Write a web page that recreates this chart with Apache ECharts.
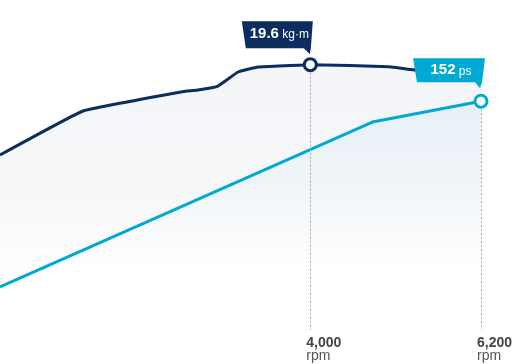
<!DOCTYPE html>
<html>
<head>
<meta charset="utf-8">
<script src="https://cdn.jsdelivr.net/npm/echarts@6/dist/echarts.min.js"></script>
<style>
html,body{margin:0;padding:0;background:#fff;}
#chart{width:514px;height:364px;}
</style>
</head>
<body>
<div id="chart"></div>
<script>
// Torque curve (kg·m) vs rpm
const torqueRpm = [0, 1070, 2410, 2552, 2810, 3068, 3326, 4000, 5014, 5349, 6200];
const torqueValues = [12.93, 16.18, 17.66, 17.73, 18.02, 19.06, 19.43, 19.6, 19.45, 19.2, 18.54];
// Power curve (ps) vs rpm
const powerRpm = [0, 4800, 6200];
const powerValues = [28.6, 138.2, 152];
// Peak annotations
const torquePeak = [4000, 19.6];
const powerPeak = [6200, 152];
const tickValues = [4000, 6200];
const tickLabels = ['4,000', '6,200'];
const unitLabel = 'rpm';

const navy = '#0c2d5e';
const cyan = '#00a9d4';

const torqueData = torqueRpm.map((r, i) => [r, torqueValues[i]]);
const powerData = powerRpm.map((r, i) => [r, powerValues[i]]);

const chart = echarts.init(document.getElementById('chart'), null, {renderer: 'canvas'});

function peakMarks(peak, color, path, size, offset, text, labelOffset) {
  return {
    markLine: {
      silent: true,
      symbol: 'none',
      label: {show: false},
      lineStyle: {color: '#a8a8a8', type: [2, 2], width: 1},
      data: [[{coord: [peak[0], peak[1]]}, {coord: [peak[0], 0]}]]
    },
    markPoint: {
      silent: true,
      data: [
        {
          coord: peak,
          symbol: path,
          symbolSize: size,
          symbolOffset: offset,
          symbolKeepAspect: false,
          itemStyle: {color: color},
          label: {
            show: true,
            position: 'inside',
            offset: labelOffset,
            formatter: text,
            rich: {
              v: {fontFamily: 'Liberation Sans', fontWeight: 'bold', fontSize: 15, color: '#fff'},
              u: {fontFamily: 'Liberation Sans', fontSize: 12, color: '#fff', padding: [2, 0, 0, 0]}
            }
          }
        },
        {
          coord: peak,
          symbol: 'circle',
          symbolSize: 12,
          itemStyle: {color: '#fff', borderColor: color, borderWidth: 3},
          label: {show: false}
        }
      ]
    }
  };
}

const option = {
  animation: false,
  grid: {left: 0, right: 33, top: 20, bottom: 34, containLabel: false, outerBoundsMode: 'none'},
  xAxis: {
    type: 'value',
    min: 0,
    max: 6200,
    axisLine: {show: false},
    axisTick: {show: false},
    splitLine: {show: false},
    axisLabel: {
      customValues: tickValues,
      align: 'left',
      margin: 6,
      padding: [0, 0, 0, -4],
      formatter: function (v) {
        const i = tickValues.indexOf(v);
        return '{a|' + tickLabels[i] + '}\n{b|' + unitLabel + '}';
      },
      rich: {
        a: {fontFamily: 'Liberation Sans', fontWeight: 'bold', fontSize: 14, color: '#444', lineHeight: 14},
        b: {fontFamily: 'Liberation Sans', fontSize: 14, color: '#555', lineHeight: 13}
      }
    }
  },
  yAxis: [
    {type: 'value', min: 0, max: 22.9, show: false},
    {type: 'value', min: 0, max: 206, show: false}
  ],
  series: [
    Object.assign({
      name: 'torque',
      type: 'line',
      yAxisIndex: 0,
      data: torqueData,
      symbol: 'none',
      smooth: 0.08,
      lineStyle: {color: navy, width: 3},
      areaStyle: {
        origin: 'start',
        color: new echarts.graphic.LinearGradient(0, 0, 0, 1, [
          {offset: 0, color: '#eef0f4'},
          {offset: 0.5, color: '#f3f4f7'},
          {offset: 0.85, color: '#ffffff'},
          {offset: 1, color: '#ffffff'}
        ])
      },
      z: 2
    }, peakMarks(torquePeak, navy, 'path://M0 0 L71 0 L69 27 L68 33 L62 27 L4 27 Z', [71, 33], [-33, -27], '{v|19.6} {u|kg·m}', [2, -4])),
    Object.assign({
      name: 'power',
      type: 'line',
      yAxisIndex: 1,
      data: powerData,
      symbol: 'none',
      lineStyle: {color: cyan, width: 3},
      areaStyle: {
        origin: 'start',
        color: new echarts.graphic.LinearGradient(0, 0, 0, 1, [
          {offset: 0, color: '#e3eef5'},
          {offset: 0.35, color: '#ecf3f8'},
          {offset: 0.7, color: '#ffffff'},
          {offset: 1, color: '#ffffff'}
        ])
      },
      z: 3
    }, peakMarks(powerPeak, cyan, 'path://M0 0 L72 0 L69 24 L67 30 L62 24 L4 24 Z', [72, 30], [-32, -28], '{v|152} {u|ps}', [2, -3]))
  ]
};

chart.setOption(option);
</script>
</body>
</html>
